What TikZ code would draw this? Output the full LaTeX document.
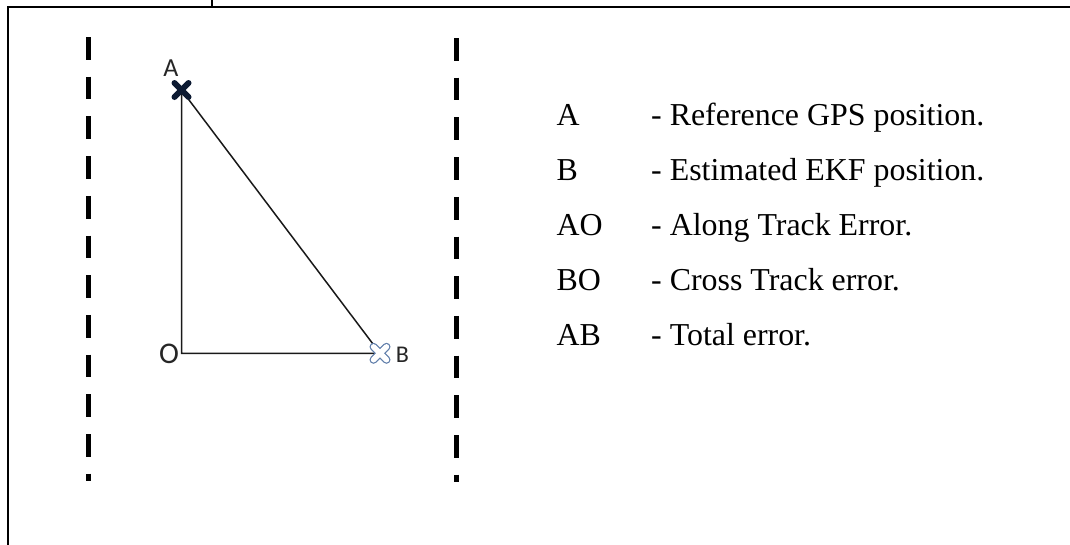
\documentclass[tikz,border=0pt]{standalone}
\usepackage{fontspec}
\usetikzlibrary{calc}
\setmainfont{Liberation Serif}
\newfontfamily\sansf{Carlito}
\begin{document}
\begin{tikzpicture}[x=1pt,y=-1pt,
  framel/.style={line width=2pt,black},
  lane/.style={line width=5pt,black,dash pattern=on 22.7pt off 17pt},
  tri/.style={line width=1.5pt,black!90},
  ptlabel/.style={inner sep=0pt,text=black!85},
  legtxt/.style={font=\fontsize{31.9}{31.9}\selectfont,anchor=base west,inner sep=0pt},
  markA/.style={line width=6pt,line cap=round,color={rgb,255:red,12;green,26;blue,50}},
  markBout/.style={line width=8pt,line cap=round,color={rgb,255:red,96;green,126;blue,170}},
  markBin/.style={line width=5.4pt,line cap=round,white},
  ]
\useasboundingbox (0,0) rectangle (1070,544);
% frame
\coordinate (fTR) at (1071,7);
\coordinate (fTL) at (7.7,7);
\coordinate (fBL) at (7.7,545);
\draw[framel] (fTR) -- (fTL) -- (fBL);
\coordinate (tickT) at (211.7,-1);
\coordinate (tickB) at (211.7,7);
\draw[line width=2pt] (tickT) -- (tickB);
% lanes
\coordinate (L1t) at (88.3,37);
\coordinate (L1b) at (88.3,481);
\coordinate (L2t) at (456.7,38);
\coordinate (L2b) at (456.7,482);
\draw[lane] (L1t) -- (L1b);
\draw[lane] (L2t) -- (L2b);
% triangle
\coordinate (A) at (181.5,90);
\coordinate (O) at (181.5,353.3);
\coordinate (B) at (380,353.3);
\draw[tri] (A) -- (O) -- (B) -- cycle;
% marks
\draw[markA] ($(A)+(-7,-7)$) -- ($(A)+(7,7)$);
\draw[markA] ($(A)+(-7,7)$) -- ($(A)+(7,-7)$);
\draw[markBout] ($(B)+(-6.5,-6.5)$) -- ($(B)+(6.5,6.5)$);
\draw[markBout] ($(B)+(-6.5,6.5)$) -- ($(B)+(6.5,-6.5)$);
\draw[markBin] ($(B)+(-6.5,-6.5)$) -- ($(B)+(6.5,6.5)$);
\draw[markBin] ($(B)+(-6.5,6.5)$) -- ($(B)+(6.5,-6.5)$);
% point labels
\node[ptlabel,font=\sansf\fontsize{26}{26}\selectfont] (lA) at (171,68) {A};
\node[ptlabel,font=\sansf\fontsize{30}{30}\selectfont] (lO) at (169,354) {O};
\node[ptlabel,font=\sansf\fontsize{24}{24}\selectfont] (lB) at (402.5,355) {B};
% legend
\node[legtxt] (k1) at (556.5,125) {A};
\node[legtxt] (d1) at (651,125) {- Reference GPS position.};
\node[legtxt] (k2) at (556.5,180) {B};
\node[legtxt] (d2) at (651,180) {- Estimated EKF position.};
\node[legtxt] (k3) at (556.5,235) {AO};
\node[legtxt] (d3) at (651,235) {- Along Track Error.};
\node[legtxt] (k4) at (556.5,290) {BO};
\node[legtxt] (d4) at (651,290) {- Cross Track error.};
\node[legtxt] (k5) at (556.5,345) {AB};
\node[legtxt] (d5) at (651,345) {- Total error.};
\end{tikzpicture}
\end{document}
